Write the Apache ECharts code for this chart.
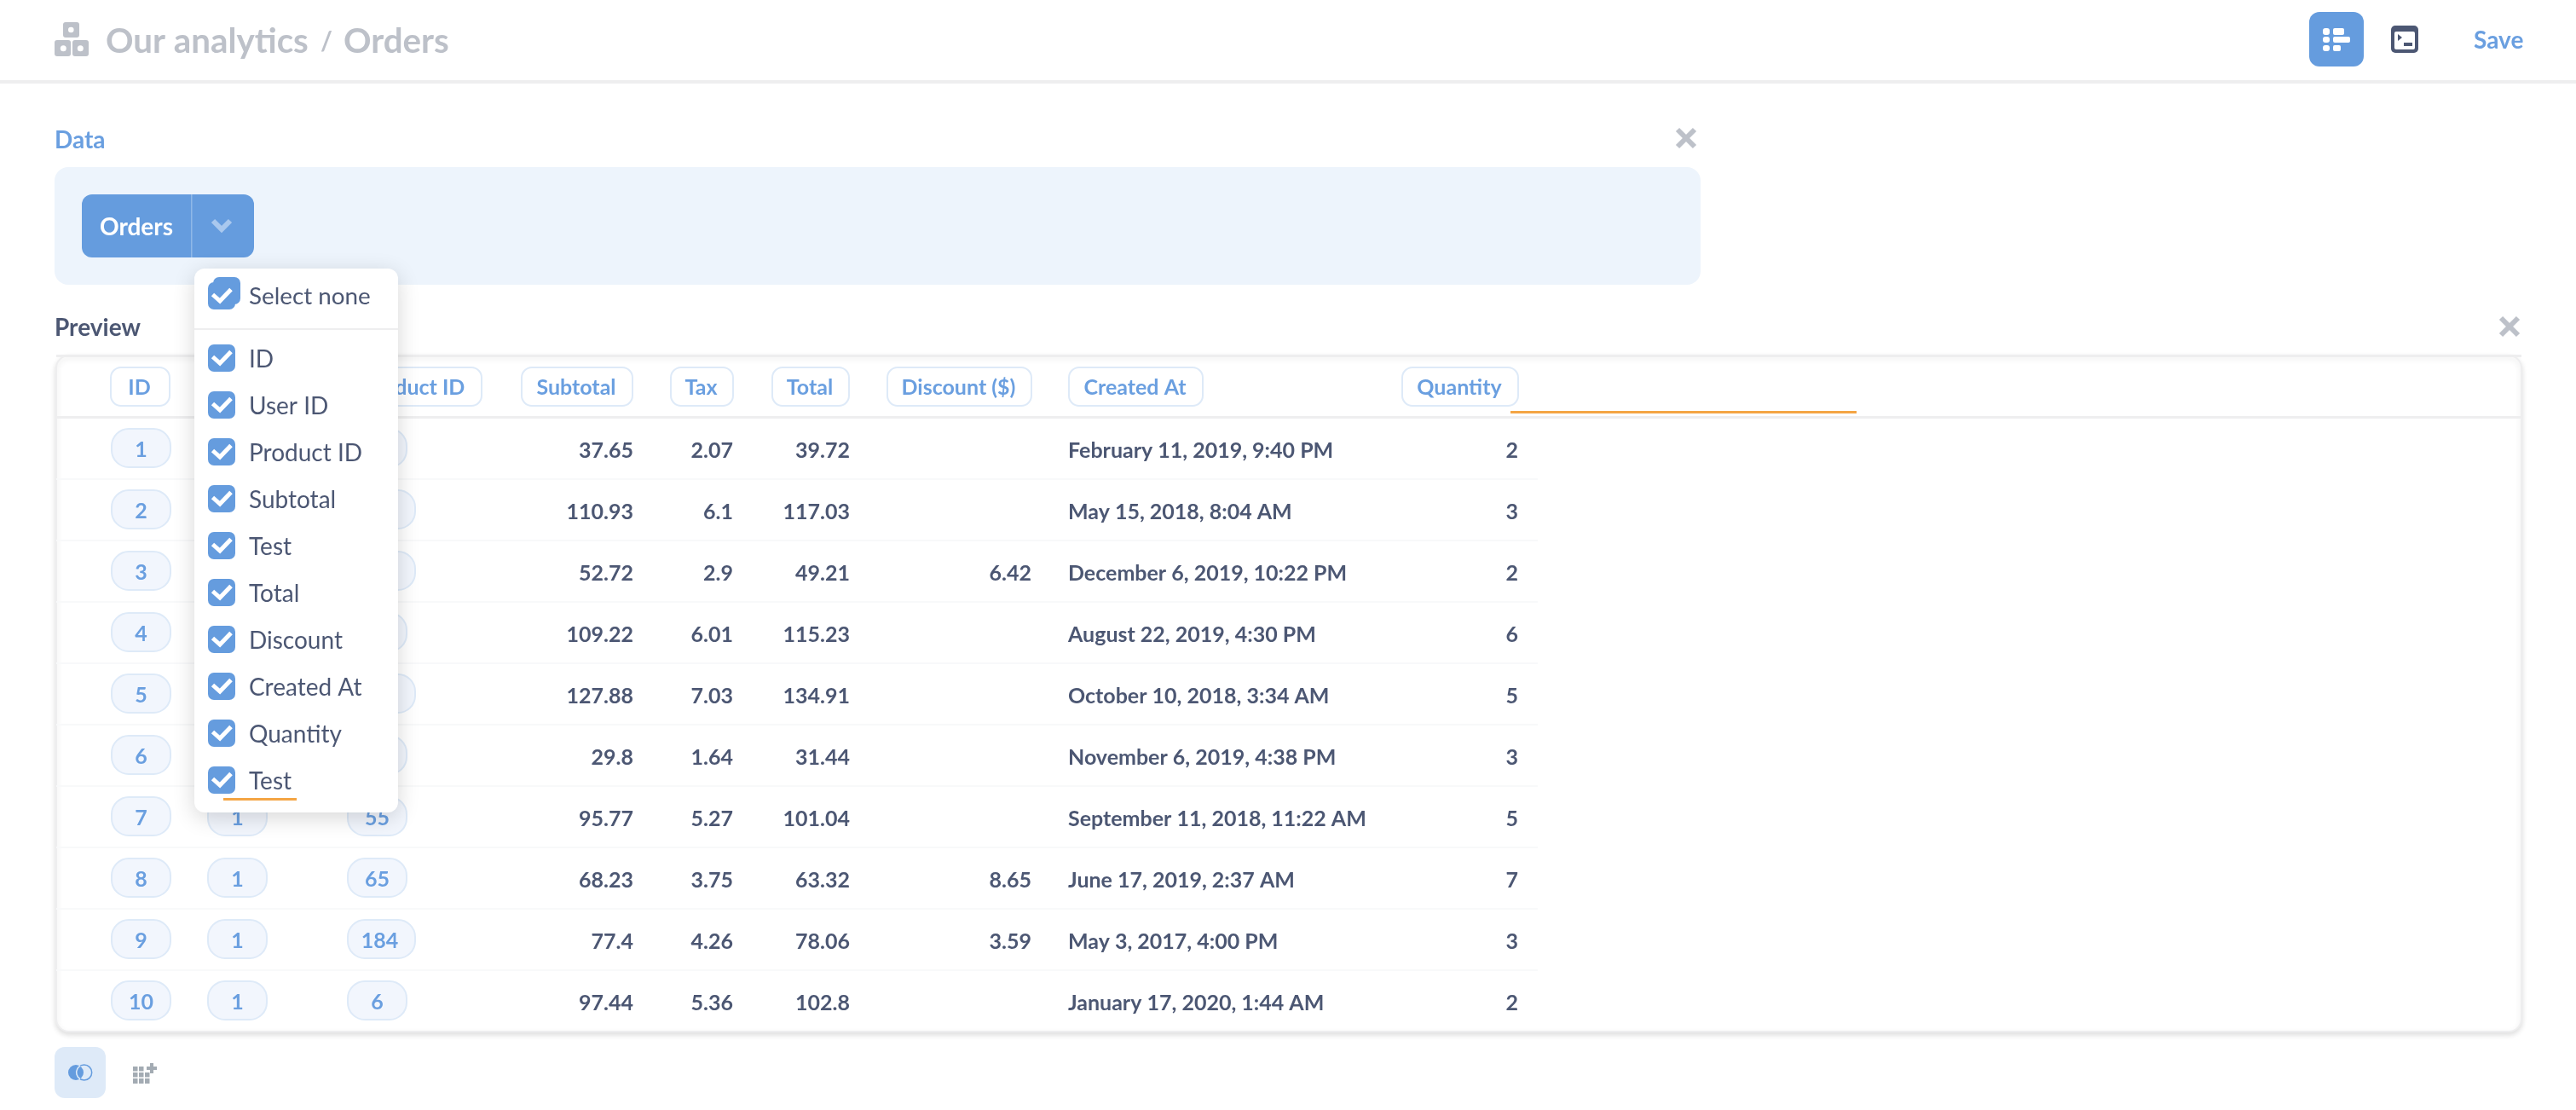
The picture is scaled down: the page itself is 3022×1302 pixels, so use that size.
<!DOCTYPE html>
<html>
<head>
<meta charset="utf-8">
<title>Orders</title>
<style>
  html, body { margin: 0; padding: 0; background: #fff; }
  #chart { width: 3022px; height: 1302px; }
</style>
<script src="https://cdn.jsdelivr.net/npm/echarts@6/dist/echarts.min.js"></script>
</head>
<body>
<div id="chart"></div>
<script>
// table data
const headers = ['ID', 'User ID', 'Product ID', 'Subtotal', 'Tax', 'Total', 'Discount ($)', 'Created At', 'Quantity'];
const ids = ['1', '2', '3', '4', '5', '6', '7', '8', '9', '10'];
const userIds = ['1', '1', '1', '1', '1', '1', '1', '1', '1', '1'];
const productIds = ['14', '123', '105', '94', '132', '60', '55', '65', '184', '6'];
const subtotals = ['37.65', '110.93', '52.72', '109.22', '127.88', '29.8', '95.77', '68.23', '77.4', '97.44'];
const taxes = ['2.07', '6.1', '2.9', '6.01', '7.03', '1.64', '5.27', '3.75', '4.26', '5.36'];
const totals = ['39.72', '117.03', '49.21', '115.23', '134.91', '31.44', '101.04', '63.32', '78.06', '102.8'];
const discounts = ['', '', '6.42', '', '', '', '', '8.65', '3.59', ''];
const createdAt = [
  'February 11, 2019, 9:40 PM', 'May 15, 2018, 8:04 AM', 'December 6, 2019, 10:22 PM',
  'August 22, 2019, 4:30 PM', 'October 10, 2018, 3:34 AM', 'November 6, 2019, 4:38 PM',
  'September 11, 2018, 11:22 AM', 'June 17, 2019, 2:37 AM', 'May 3, 2017, 4:00 PM',
  'January 17, 2020, 1:44 AM'
];
const quantities = ['2', '3', '2', '6', '5', '3', '5', '7', '3', '2'];
const pickerFields = ['ID', 'User ID', 'Product ID', 'Subtotal', 'Test', 'Total', 'Discount', 'Created At', 'Quantity', 'Test'];

const BLUE = '#659cde';
const PILL_TEXT = '#6a9fe0';
const PILL_BORDER = '#deeaf8';
const DARK = '#4c5773';
const GREY = '#bdc1c9';
const ICON_GREY = '#a3abb3';
const LINE = '#eeeeef';
const ORANGE = '#f4a544';
const FONT = 'Lato';

// x layout of the table, left and right edge of each pill / text column
const headerBoxes = [[130, 199], [243, 380], [407, 565], [612, 742], [787, 860], [906, 996], [1041, 1210], [1254, 1411], [1645, 1781]];
const pillLeft = { id: 130, user: 243, product: 407 };
const textRight = { subtotal: 743, tax: 860, total: 997, discount: 1210, quantity: 1781 };
const dateLeft = 1253;

function label(text, x, y, size, weight, fill, align) {
  return {
    type: 'text',
    style: {
      text, x, y, fill,
      fontSize: size, fontWeight: weight, fontFamily: FONT,
      align: align || 'left', verticalAlign: 'middle'
    }
  };
}

// body cells
function pillSeries(values, left) {
  return {
    type: 'custom',
    xAxisIndex: 0,
    yAxisIndex: 0,
    z: 2,
    data: values.map((v, i) => [left, i]),
    renderItem(params, api) {
      const text = values[params.dataIndex];
      const c = api.coord([api.value(0), api.value(1)]);
      const wide = text.length > 2;
      const w = wide ? 79 : 69;
      return {
        type: 'group',
        children: [
          { type: 'rect', shape: { x: c[0] + 1, y: c[1] - 23, width: w, height: 45, r: 20 },
            style: { fill: '#f2f6fd', stroke: PILL_BORDER, lineWidth: 2 } },
          label(text, c[0] + 1 + w / 2 - (wide ? 2 : 0), c[1] + 2, 25, 'bold', PILL_TEXT, 'center')
        ]
      };
    }
  };
}

function textSeries(values, x, align) {
  const rows = [];
  values.forEach((v, i) => { if (v !== '') rows.push({ text: v, row: i }); });
  return {
    type: 'custom',
    xAxisIndex: 0,
    yAxisIndex: 0,
    z: 2,
    data: rows.map(r => [x, r.row]),
    renderItem(params, api) {
      const c = api.coord([api.value(0), api.value(1)]);
      return label(rows[params.dataIndex].text, c[0], c[1] + 3, 25, 'bold', DARK, align);
    }
  };
}

// header pills
const headerSeries = {
  type: 'custom',
  xAxisIndex: 1,
  yAxisIndex: 1,
  z: 2,
  data: headerBoxes.map(b => [b[0], b[1], 0]),
  renderItem(params, api) {
    const a = api.coord([api.value(0), api.value(2)]);
    const b = api.coord([api.value(1), api.value(2)]);
    return {
      type: 'group',
      children: [
        { type: 'rect', shape: { x: a[0], y: a[1] - 22, width: b[0] - a[0], height: 45, r: 12 },
          style: { fill: '#fff', stroke: PILL_BORDER, lineWidth: 2 } },
        label(headers[params.dataIndex], (a[0] + b[0]) / 2 - 1, a[1] + 2, 25, 'bold', PILL_TEXT, 'center')
      ]
    };
  }
};

// column picker entries
function checkbox(x, y) {
  return [
    { type: 'rect', shape: { x, y, width: 32, height: 32, r: 7 }, style: { fill: BLUE } },
    { type: 'polyline',
      shape: { points: [[x + 5.5, y + 14.5], [x + 14, y + 22], [x + 27, y + 8.5]] },
      style: { fill: 'none', stroke: '#fff', lineWidth: 5 } }
  ];
}

const pickerSeries = {
  type: 'custom',
  xAxisIndex: 2,
  yAxisIndex: 2,
  z: 7,
  data: pickerFields.map((f, i) => [244, i]),
  renderItem(params, api) {
    const c = api.coord([api.value(0), api.value(1)]);
    return {
      type: 'group',
      children: checkbox(c[0], c[1] - 16).concat([
        label(pickerFields[params.dataIndex], c[0] + 48, c[1] + 2, 28, 'normal', DARK)
      ])
    };
  }
};

function box(x, y, width, height, r, fill, extra) {
  return Object.assign({ type: 'rect', shape: { x, y, width, height, r }, style: { fill } }, extra || {});
}
function gText(text, x, y, size, weight, fill, align) {
  const t = label(text, x, y, size, weight, fill, align);
  t.z = 8;
  return t;
}
function cross(cx, cy) {
  const s = { stroke: GREY, lineWidth: 6 };
  return [
    { type: 'line', shape: { x1: cx - 10, y1: cy - 10, x2: cx + 10, y2: cy + 10 }, style: s },
    { type: 'line', shape: { x1: cx + 10, y1: cy - 10, x2: cx - 10, y2: cy + 10 }, style: s }
  ];
}

const chrome = [
  // top bar
  box(0, 94, 3022, 4, 0, LINE),
  box(74, 26, 19, 18, 3, GREY), box(64, 47, 19, 19, 3, GREY), box(85, 47, 19, 19, 3, GREY),
  { type: 'circle', shape: { cx: 83.3, cy: 35, r: 3.3 }, style: { fill: '#fff' } },
  { type: 'circle', shape: { cx: 74.3, cy: 56.7, r: 3.5 }, style: { fill: '#fff' } },
  { type: 'circle', shape: { cx: 94.3, cy: 56.7, r: 3.5 }, style: { fill: '#fff' } },
  gText('Our analytics', 124, 49, 40.3, 'bold', GREY),
  gText('/', 376, 49, 30, 'bold', GREY),
  gText('Orders', 403, 49, 40.3, 'bold', GREY),
  box(2709, 14, 64, 64, 12, BLUE),
  box(2725, 33, 8, 8, 3, '#fff'), box(2725, 43, 8, 7, 3, '#fff'), box(2725, 53, 8, 7, 3, '#fff'),
  box(2737, 33, 13, 8, 2, '#fff'), box(2737, 43, 20, 7, 2, '#fff'), box(2737, 53, 9, 7, 2, '#fff'),
  box(2805, 30, 32, 32, 5, DARK), box(2809, 37, 24, 21, 2, '#fff'),
  { type: 'polygon', shape: { points: [[2813, 40], [2818, 44], [2813, 48]] }, style: { fill: DARK } },
  box(2820, 50, 10, 4, 0, DARK),
  gText('Save', 2902, 48, 28, 'bold', PILL_TEXT),
  // data block
  gText('Data', 64, 165, 28, 'bold', PILL_TEXT),
  ...cross(1978, 162),
  box(64, 196, 1931, 138, 16, '#edf4fc'),
  box(96, 228, 202, 74, 12, BLUE),
  box(224, 228, 1.5, 74, 0, '#8fb8e8'),
  { type: 'polyline', shape: { points: [[250, 259], [260, 269], [270, 259]] },
    style: { fill: 'none', stroke: '#a9c8ee', lineWidth: 6 } },
  gText('Orders', 117, 267, 28, 'bold', '#fff'),
  // preview block
  gText('Preview', 64, 385, 28, 'bold', DARK),
  ...cross(2944, 383),
  box(66, 417, 2892, 793, 15, '#fff', {
    z: -1,
    style: { fill: '#fff', stroke: LINE, lineWidth: 2, shadowBlur: 6, shadowOffsetY: 3, shadowColor: 'rgba(0,0,0,0.12)' }
  }),
  // orange note under the empty header cell
  box(1772, 482, 406, 3, 0, ORANGE, { z: 3 }),
  // toggles below the table
  box(64, 1228, 60, 60, 12, '#deeaf8'),
  { type: 'circle', shape: { cx: 98.7, cy: 1258, r: 9 }, style: { fill: 'none', stroke: BLUE, lineWidth: 1.5 } },
  { type: 'circle', shape: { cx: 89, cy: 1258, r: 9 }, style: { fill: BLUE } },
  { type: 'arc', shape: { cx: 98.7, cy: 1258, r: 9, startAngle: 2.1, endAngle: 4.2, clockwise: true },
    style: { fill: 'none', stroke: '#deeaf8', lineWidth: 1.5 } },
  box(156, 1251, 5.5, 5.5, 0, ICON_GREY), box(163, 1251, 5.5, 5.5, 0, ICON_GREY),
  box(156, 1258, 5.5, 5.5, 0, ICON_GREY), box(163, 1258, 5.5, 5.5, 0, ICON_GREY), box(170, 1258, 5.5, 5.5, 0, ICON_GREY),
  box(156, 1265, 5.5, 6, 0, ICON_GREY), box(163, 1265, 5.5, 6, 0, ICON_GREY), box(170, 1265, 5.5, 6, 0, ICON_GREY),
  box(176, 1247, 4, 12, 0, ICON_GREY), box(172, 1251, 12, 4, 0, ICON_GREY)
];

const pickerChrome = [
  box(228, 315, 239, 638, 12, '#fff', {
    z: 5,
    style: { fill: '#fff', shadowBlur: 26, shadowOffsetY: 6, shadowColor: 'rgba(0,0,0,0.16)' }
  }),
  box(228, 385, 239, 2, 0, LINE, { z: 6 }),
  box(250, 325, 32, 32, 7, BLUE, { z: 6 }),
  ...checkbox(244, 331).map(o => Object.assign(o, { z: 6 })),
  gText('Select none', 292, 348, 27.8, 'normal', DARK),
  box(262, 936, 86, 3, 0, ORANGE, { z: 8 })
];

const chart = echarts.init(document.getElementById('chart'), null, { renderer: 'canvas' });

const hiddenAxis = { axisLine: { show: false }, axisTick: { show: false }, axisLabel: { show: false } };

chart.setOption({
  animation: false,
  backgroundColor: '#fff',
  grid: [
    { left: 66, top: 490, width: 1738, height: 720 },
    { left: 66, top: 417, width: 2892, height: 72 },
    { left: 228, top: 392.5, width: 239, height: 550 }
  ],
  xAxis: [
    Object.assign({ type: 'value', gridIndex: 0, min: 66, max: 1804, splitLine: { show: false } }, hiddenAxis),
    Object.assign({ type: 'value', gridIndex: 1, min: 66, max: 2958, splitLine: { show: false } }, hiddenAxis),
    Object.assign({ type: 'value', gridIndex: 2, min: 228, max: 467, splitLine: { show: false } }, hiddenAxis)
  ],
  yAxis: [
    Object.assign({ type: 'category', gridIndex: 0, inverse: true, data: ids, z: 1,
      splitLine: { show: true, showMaxLine: false, lineStyle: { color: '#f8f9fa', width: 2 } } }, hiddenAxis),
    Object.assign({ type: 'category', gridIndex: 1, inverse: true, data: ['header'], z: 1,
      splitLine: { show: true, lineStyle: { color: LINE, width: 3 } } }, hiddenAxis),
    Object.assign({ type: 'category', gridIndex: 2, inverse: true, data: pickerFields.map((f, i) => i + ' ' + f),
      splitLine: { show: false } }, hiddenAxis)
  ],
  graphic: { elements: chrome.concat(pickerChrome) },
  series: [
    headerSeries,
    pillSeries(ids, pillLeft.id),
    pillSeries(userIds, pillLeft.user),
    pillSeries(productIds, pillLeft.product),
    textSeries(subtotals, textRight.subtotal, 'right'),
    textSeries(taxes, textRight.tax, 'right'),
    textSeries(totals, textRight.total, 'right'),
    textSeries(discounts, textRight.discount, 'right'),
    textSeries(createdAt, dateLeft, 'left'),
    textSeries(quantities, textRight.quantity, 'right'),
    pickerSeries
  ]
});
</script>
</body>
</html>
